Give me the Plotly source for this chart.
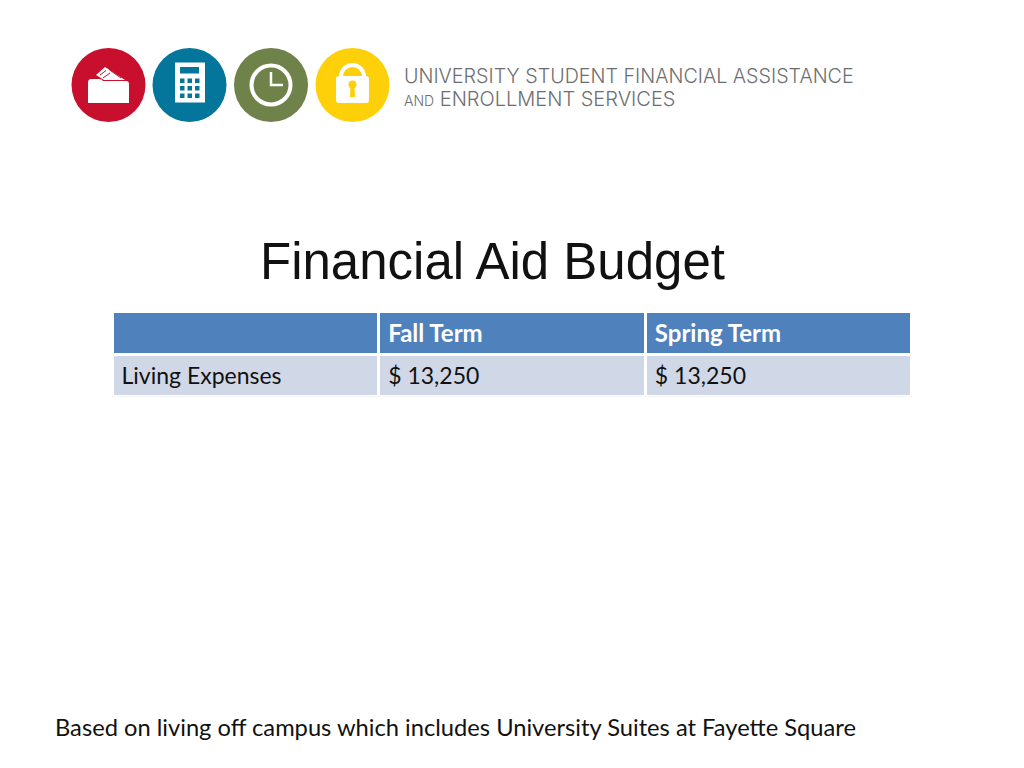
import plotly.graph_objects as go

title = "Financial Aid Budget"
footnote = "Based on living off campus which includes University Suites at Fayette Square"
header = ["", "Fall Term", "Spring Term"]
row_labels = ["Living Expenses"]
fall_values = ["$ 13,250"]
spring_values = ["$ 13,250"]

RED = "#c8102e"
BLUE = "#04759b"
GREEN = "#6f8249"
YELLOW = "#fdd00a"
GREY = "#6d6e71"

fig = go.Figure()

fig.add_trace(go.Table(
    domain=dict(x=[112 / 1024, 912.5 / 1024], y=[1 - 397 / 768, 1 - 311.5 / 768]),
    columnwidth=[1, 1, 1],
    header=dict(
        values=header,
        fill_color="#4f81bd",
        line=dict(color="white", width=3),
        align="left",
        height=43,
        font=dict(family="Lato", size=24, color="white", weight="bold"),
    ),
    cells=dict(
        values=[row_labels, fall_values, spring_values],
        fill_color="#d0d8e8",
        line=dict(color="white", width=3),
        align="left",
        height=42,
        font=dict(family="Lato", size=23, color="#111111"),
    ),
))


def circle(cx, cy, r, **kw):
    return dict(type="circle", xref="x", yref="y", x0=cx - r, x1=cx + r, y0=cy - r, y1=cy + r, **kw)


def rect(x0, y0, x1, y1, color):
    return dict(type="rect", xref="x", yref="y", x0=x0, x1=x1, y0=y0, y1=y1, fillcolor=color, line_width=0)


def path(d, color):
    return dict(type="path", xref="x", yref="y", path=d, fillcolor=color, line_width=0)


def stroke(d, color, width):
    return dict(type="path", xref="x", yref="y", path=d, line=dict(color=color, width=width))


shapes = [
    circle(108.5, 85, 37, fillcolor=RED, line_width=0),
    circle(189.5, 85, 37, fillcolor=BLUE, line_width=0),
    circle(271, 85, 37, fillcolor=GREEN, line_width=0),
    circle(352.5, 85, 37, fillcolor=YELLOW, line_width=0),
]

# wallet
shapes.append(path("M 96 75 L 105 67 L 125 80 L 104 80 Z", "white"))
shapes.append(stroke("M 100 75 L 106 70.5", RED, 1))
shapes.append(stroke("M 103 78 L 110 73", RED, 1))
shapes.append(stroke("M 109 69.5 L 121 78", RED, 1))
shapes.append(path("M 88 83 Q 88 79 91 79 L 99 79 Q 102 79 103 81 L 126 81 Q 129 81 129 84 L 129 103 L 88 103 Z", "white"))

# calculator
shapes.append(rect(175, 62.5, 205, 102.5, "white"))
shapes.append(rect(180, 67, 199, 73.5, BLUE))
for kx in (180, 187.5, 195):
    for ky in (78.5, 86, 93.5):
        shapes.append(rect(kx, ky, kx + 4.5, ky + 4.5, BLUE))

# clock
shapes.append(circle(271, 85, 19.5, line=dict(color="white", width=4), fillcolor="rgba(0,0,0,0)"))
shapes.append(stroke("M 271 72 L 271 85 L 283 85", "white", 2.5))

# padlock
shapes.append(circle(352.5, 76.5, 11.5, line=dict(color="white", width=4), fillcolor="rgba(0,0,0,0)"))
shapes.append(path("M 336 79 Q 336 76 339 76 L 366 76 Q 369 76 369 79 L 369 100 Q 369 103 366 103 L 339 103 Q 336 103 336 100 Z", "white"))
shapes.append(circle(352.5, 84.5, 4, fillcolor=YELLOW, line_width=0))
shapes.append(path("M 350.5 85 L 354.5 85 L 355 97 L 350 97 Z", YELLOW))

annotations = [
    dict(x=492.5, y=261, text=title, font=dict(family="Liberation Sans", size=51, color="#111111")),
    dict(x=455, y=727, text=footnote, font=dict(family="Lato", size=23.7, color="#111111")),
    dict(x=402, y=76, xanchor="left", text="UNIVERSITY STUDENT FINANCIAL ASSISTANCE",
         font=dict(family="Inter", size=19.7, color=GREY, weight=300)),
    dict(x=402, y=99, xanchor="left",
         text="<span style='font-size:14px'>AND</span> ENROLLMENT SERVICES",
         font=dict(family="Inter", size=20, color=GREY, weight=300)),
]
for a in annotations:
    a.update(xref="x", yref="y", showarrow=False, yanchor="middle")
    a.setdefault("xanchor", "center")

fig.update_layout(
    width=1024,
    height=768,
    margin=dict(l=0, r=0, t=0, b=0),
    paper_bgcolor="white",
    plot_bgcolor="rgba(0,0,0,0)",
    xaxis=dict(range=[0, 1024], visible=False, domain=[0, 1]),
    yaxis=dict(range=[768, 0], visible=False, domain=[0, 1]),
    shapes=shapes,
    annotations=annotations,
    showlegend=False,
)

# table cells have a fixed padding, nudge the text to where the slide has it
nudge = """
document.body.style.margin = '0';
document.querySelectorAll('.cell-text').forEach(function (t) {
    t.setAttribute('transform', 'translate(1.5,4)');
});
"""
fig.write_html("out.html", config=dict(displayModeBar=False), post_script=nudge)
